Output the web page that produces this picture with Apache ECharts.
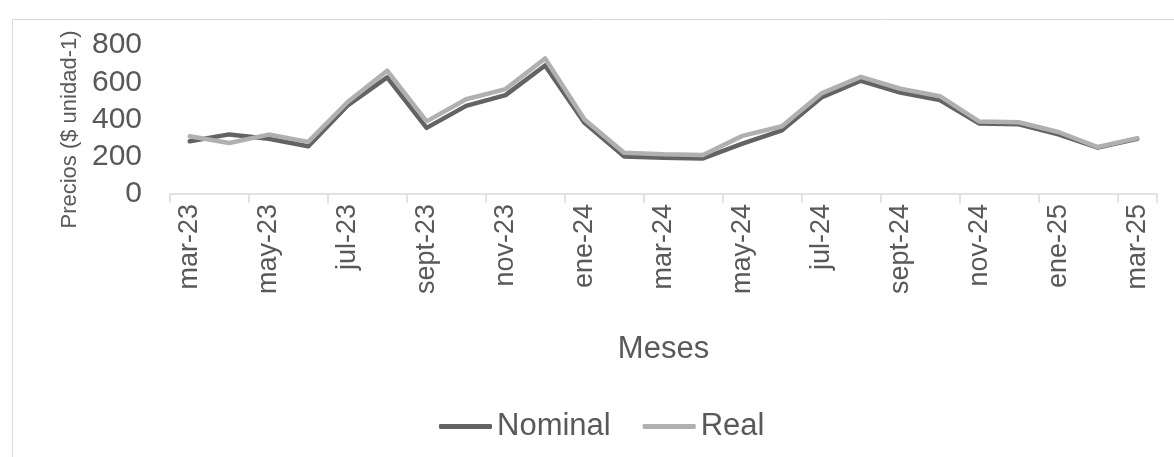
<!DOCTYPE html>
<html>
<head>
<meta charset="utf-8">
<script src="https://cdn.jsdelivr.net/npm/echarts@6/dist/echarts.min.js"></script>
<style>
html,body{margin:0;padding:0;background:#fff;}
#chart{width:1174px;height:457px;}
</style>
</head>
<body>
<div id="chart"></div>
<script>
const months = ['mar-23','abr-23','may-23','jun-23','jul-23','ago-23','sept-23','oct-23','nov-23','dic-23',
  'ene-24','feb-24','mar-24','abr-24','may-24','jun-24','jul-24','ago-24','sept-24','oct-24','nov-24','dic-24',
  'ene-25','feb-25','mar-25'];
const nominal = [283, 320, 297, 256, 476, 626, 355, 473, 531, 690, 382, 202, 195, 191, 270, 342, 518, 608, 545, 504, 378, 374, 320, 249, 296];
const real = [310, 274, 319, 280, 494, 662, 390, 509, 563, 728, 400, 222, 213, 209, 312, 364, 540, 629, 565, 525, 389, 385, 333, 252, 300];
const yTicks = {min: 0, max: 800, interval: 200};

const FONT = '"Liberation Sans", Arial, sans-serif';
const TXT = '#595959';
const chart = echarts.init(document.getElementById('chart'), null, {renderer: 'canvas'});
chart.setOption({
  animation: false,
  backgroundColor: '#ffffff',
  graphic: [{
    type: 'rect', left: 10, top: 17, shape: {width: 1300, height: 600},
    style: {fill: 'none', stroke: '#d9d9d9', lineWidth: 1}, silent: true
  }],
  grid: {left: 170, right: 17, top: 45, bottom: 263, containLabel: false},
  legend: {
    data: ['Nominal', 'Real'], top: 406, left: 434,
    icon: 'roundRect', itemWidth: 53, itemHeight: 5, itemGap: 32,
    textStyle: {fontFamily: FONT, fontSize: 31, color: TXT}
  },
  xAxis: {
    type: 'category', data: months, boundaryGap: true,
    name: 'Meses', nameLocation: 'middle', nameGap: 140,
    nameTextStyle: {fontFamily: FONT, fontSize: 31, color: TXT},
    axisLine: {lineStyle: {color: '#d9d9d9', width: 1.5}},
    axisTick: {show: true, interval: 1, length: 9, lineStyle: {color: '#d9d9d9', width: 1.5}},
    axisLabel: {interval: 1, rotate: 90, margin: 10, fontFamily: FONT, fontSize: 27, color: TXT},
    splitLine: {show: false}
  },
  yAxis: {
    type: 'value', min: yTicks.min, max: yTicks.max, interval: yTicks.interval,
    name: 'Precios ($ unidad-1)', nameLocation: 'middle', nameGap: 89,
    nameTextStyle: {fontFamily: FONT, fontSize: 22, color: TXT, padding: [0, 20, 0, 0]},
    axisLine: {show: false}, axisTick: {show: false},
    axisLabel: {margin: 28, fontFamily: FONT, fontSize: 30, color: TXT},
    splitLine: {show: false}
  },
  series: [
    {name: 'Nominal', type: 'line', data: nominal, symbol: 'none', showSymbol: false,
     lineStyle: {color: '#636363', width: 4.5, cap: 'round', join: 'round'}, itemStyle: {color: '#636363'}, z: 2},
    {name: 'Real', type: 'line', data: real, symbol: 'none', showSymbol: false,
     lineStyle: {color: '#b0b0b0', width: 4.5, cap: 'round', join: 'round'}, itemStyle: {color: '#b0b0b0'}, z: 3}
  ]
});
</script>
</body>
</html>
